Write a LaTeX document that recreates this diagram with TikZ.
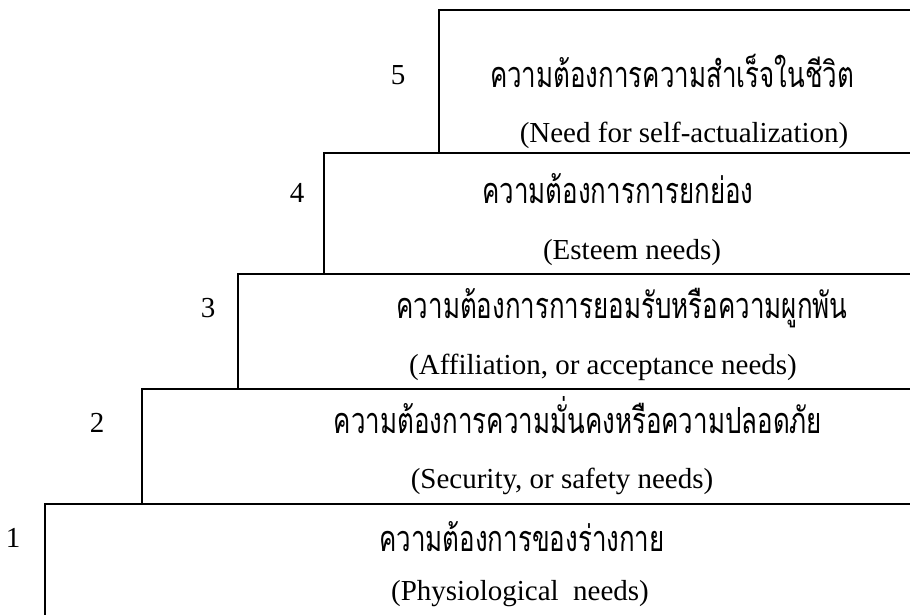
\documentclass[tikz,border=0pt]{standalone}
\usepackage{fontspec}
\setmainfont{Liberation Serif}
\newfontfamily\thaifont[Script=Thai,FakeStretch=0.72]{Loma}
\tikzset{
  stair/.style={line width=1.5pt, line cap=rect},
  th/.style={font=\thaifont\fontsize{36}{40}\selectfont, inner sep=0pt, anchor=base},
  en/.style={font=\fontsize{29}{34}\selectfont, inner sep=0pt, anchor=base},
  num/.style={font=\fontsize{29}{34}\selectfont, inner sep=0pt, anchor=base}
}
\begin{document}
\begin{tikzpicture}[x=1pt,y=-1pt]
\useasboundingbox[fill=white] (0,0) rectangle (910,614);
% staircase outline
\coordinate (r5) at (912,10);  \coordinate (c5) at (439,10);  \coordinate (b5) at (439,153);
\coordinate (r4) at (912,153); \coordinate (c4) at (324,153); \coordinate (b4) at (324,274);
\coordinate (r3) at (912,274); \coordinate (c3) at (238,274); \coordinate (b3) at (238,389);
\coordinate (r2) at (912,389); \coordinate (c2) at (142,389); \coordinate (b2) at (142,504);
\coordinate (r1) at (912,504); \coordinate (c1) at (45,504);  \coordinate (b1) at (45,616);
\draw[stair] (r5) -- (c5) -- (b5);
\draw[stair] (r4) -- (c4) -- (b4);
\draw[stair] (r3) -- (c3) -- (b3);
\draw[stair] (r2) -- (c2) -- (b2);
\draw[stair] (r1) -- (c1) -- (b1);
% level numbers
\node[num] (n5) at (398,84) {5};
\node[num] (n4) at (297,202) {4};
\node[num] (n3) at (208,317) {3};
\node[num] (n2) at (97,432) {2};
\node[num] (n1) at (13,547) {1};
% texts
\node[th] (t5) at (672,87) {ความต้องการความสำเร็จในชีวิต};
\node[en] (e5) at (684,142) {(Need for self-actualization)};
\node[th] (t4) at (618,203) {ความต้องการการยกย่อง};
\node[en] (e4) at (632,259) {(Esteem needs)};
\node[th] (t3) at (622,318) {ความต้องการการยอมรับหรือความผูกพัน};
\node[en] (e3) at (603,374) {(Affiliation, or acceptance needs)};
\node[th] (t2) at (578,433) {ความต้องการความมั่นคงหรือความปลอดภัย};
\node[en] (e2) at (562,488) {(Security, or safety needs)};
\node[th] (t1) at (522,551) {ความต้องการของร่างกาย};
\node[en] (e1) at (520,600) {(Physiological~ needs)};
\end{tikzpicture}
\end{document}
